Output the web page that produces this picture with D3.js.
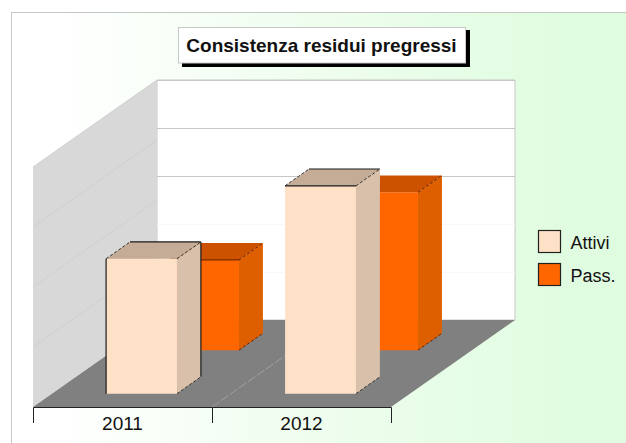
<!DOCTYPE html>
<meta charset="utf-8">
<title>Consistenza residui pregressi</title>
<style>
  html, body { margin: 0; padding: 0; background: #fff; }
  svg { display: block; }
  text { font-family: "Liberation Sans", Arial, sans-serif; fill: #111; }
</style>
<body>
  <div id="container"></div>
  <script src="https://cdn.jsdelivr.net/npm/d3@7"></script>
  <script>
    const categories = ["2011", "2012"];
    const seriesNames = ["Attivi", "Pass."];
    const attivi = [2.81, 4.33];
    const passivi = [1.88, 3.29];
    const backTicks = [1, 2, 3, 4, 5];
    const sideTicks = [1, 2, 3, 4];

    const width = 626;
    const height = 443;

    // front left corner of the floor, and the depth vector going to the back wall
    const x0 = 33, x1 = 391, floorY = 407;
    const depthX = 124, depthY = 87;
    const wallH = 240;

    const svg = d3.select("#container").append("svg")
      .attr("width", width)
      .attr("height", height);

    const grad = svg.append("defs").append("linearGradient")
      .attr("id", "bg");
    grad.append("stop").attr("offset", "0.06").attr("stop-color", "#ffffff");
    grad.append("stop").attr("offset", "0.88").attr("stop-color", "#e0fce0");

    svg.append("rect")
      .attr("x", 11.5).attr("y", 12.5)
      .attr("width", width).attr("height", height)
      .attr("fill", "url(#bg)")
      .attr("stroke", "#c4c8c4");

    const x = d3.scaleBand().domain(categories).range([x0, x1])
      .paddingInner(0.604).paddingOuter(0.302);
    const z = d3.scaleBand().domain(seriesNames).range([0, 1])
      .paddingInner(0.614).paddingOuter(0.307);
    const y = d3.scaleLinear().domain([0, 5]).range([0, wallH]);
    const ySide = d3.scaleLinear().domain([0, 4]).range([0, wallH]);

    // oblique projection: px along x, d = 0..1 into the depth, h = pixels up
    const pt = (px, d, h) => [px + d * depthX, floorY - d * depthY - h];
    const poly = pts => "M" + pts.join("L") + "Z";

    // walls and floor
    svg.append("path")
      .attr("d", poly([pt(x0, 1, 0), pt(x1, 1, 0), pt(x1, 1, wallH), pt(x0, 1, wallH)]))
      .attr("fill", "#fff").attr("stroke", "#c6c6c6");
    svg.append("path")
      .attr("d", poly([pt(x0, 0, 0), pt(x0, 1, 0), pt(x0, 1, wallH), pt(x0, 0, wallH)]))
      .attr("fill", "#d8d8d8");
    svg.append("path")
      .attr("d", poly([pt(x0, 0, 0), pt(x1, 0, 0), pt(x1, 1, 0), pt(x0, 1, 0)]))
      .attr("fill", "#808080");

    svg.selectAll(".back").data(backTicks).join("line")
      .attr("class", "back")
      .attr("x1", pt(x0, 1, 0)[0]).attr("x2", pt(x1, 1, 0)[0])
      .attr("y1", d => Math.round(pt(x0, 1, y(d))[1]) + 0.5)
      .attr("y2", d => Math.round(pt(x0, 1, y(d))[1]) + 0.5)
      .attr("stroke", d => d >= 3 ? "#c6c6c6" : "#f8f8f8");
    svg.selectAll(".side").data(sideTicks).join("line")
      .attr("class", "side")
      .attr("x1", pt(x0, 0, 0)[0]).attr("x2", pt(x0, 1, 0)[0])
      .attr("y1", d => pt(x0, 0, ySide(d))[1])
      .attr("y2", d => pt(x0, 1, ySide(d))[1])
      .attr("stroke", "#d0d0d0");

    // divider on the floor, only half visible in the original
    const midX = x0 + x.step();
    svg.append("line")
      .attr("x1", midX).attr("y1", floorY)
      .attr("x2", pt(midX, 1, 0)[0]).attr("y2", pt(x0, 1, 0)[1])
      .attr("stroke", "#a0a0a0").attr("stroke-dasharray", "9 2");

    // bars, back row first
    const colors = {
      "Attivi": { front: "#ffe1c8", top: "#c4ac96", side: "#d8c0aa", dots: "#333" },
      "Pass.": { front: "#ff6600", top: "#cc5200", side: "#dd5f00", dots: "#6a2000" }
    };
    // which edges came out solid in the original
    const solid = {
      "Attivi-2011": ["left", "topBack", "backRight"],
      "Attivi-2012": ["topFront", "topBack"],
      "Pass.-2011": ["topFront"],
      "Pass.-2012": []
    };

    const bars = [];
    [[seriesNames[1], passivi], [seriesNames[0], attivi]].forEach(([name, values]) => {
      categories.forEach((cat, i) => bars.push({ name, cat, value: values[i] }));
    });

    const g = svg.selectAll(".bar").data(bars).join("g").attr("class", "bar");
    g.each(function(d) {
      const sel = d3.select(this);
      const c = colors[d.name];
      const l = x(d.cat), r = l + x.bandwidth();
      const n = z(d.name), f = n + z.bandwidth();
      const h = y(d.value);

      sel.append("path").attr("d", poly([pt(l, n, 0), pt(r, n, 0), pt(r, n, h), pt(l, n, h)])).attr("fill", c.front);
      sel.append("path").attr("d", poly([pt(r, n, 0), pt(r, f, 0), pt(r, f, h), pt(r, n, h)])).attr("fill", c.side);
      sel.append("path").attr("d", poly([pt(l, n, h), pt(r, n, h), pt(r, f, h), pt(l, f, h)])).attr("fill", c.top);

      const dotted = [[pt(r, n, 0), pt(r, f, 0)], [pt(r, n, h), pt(r, f, h)]];
      if (d.name === seriesNames[0]) dotted.push([pt(l, n, h), pt(l, f, h)]);
      dotted.forEach(e => sel.append("path")
        .attr("d", "M" + e.join("L"))
        .attr("fill", "none").attr("stroke", c.dots)
        .attr("stroke-width", 1).attr("stroke-dasharray", "3 2"));

      const edges = {
        left: [pt(l, n, 0), pt(l, n, h)],
        topFront: [pt(l, n, h), pt(r, n, h)],
        topBack: [pt(l, f, h), pt(r, f, h)],
        backRight: [pt(r, f, 0), pt(r, f, h)]
      };
      solid[d.name + "-" + d.cat].forEach(k => sel.append("path")
        .attr("d", "M" + edges[k].join("L"))
        .attr("fill", "none")
        .attr("stroke", d.name === seriesNames[0] ? "#1a1a1a" : "#7a2c00")
        .attr("stroke-width", 1.2));
    });

    // category axis
    const xAxis = d3.axisBottom(x).tickSize(0).tickPadding(0);
    const axisG = svg.append("g")
      .attr("transform", `translate(0,${floorY})`)
      .call(xAxis);
    axisG.select(".domain").remove();
    axisG.selectAll("text")
      .attr("y", 23).attr("dy", 0)
      .style("font-family", '"Liberation Sans", Arial, sans-serif')
      .style("font-size", "19px");

    svg.append("path")
      .attr("d", `M${x0 + 0.5},${floorY + 16}V${floorY + 0.5}H${x1 + 0.5}V${floorY + 16}M${midX + 0.5},${floorY}V${floorY + 16}`)
      .attr("fill", "none").attr("stroke", "#222");

    // title box
    const title = svg.append("g");
    title.append("rect")
      .attr("x", 182).attr("y", 30).attr("width", 288).attr("height", 37)
      .attr("fill", "#000");
    title.append("rect")
      .attr("x", 178.5).attr("y", 27.5).attr("width", 287).attr("height", 35.5)
      .attr("fill", "#fff").attr("stroke", "#c8c8c8");
    title.append("text")
      .attr("x", 321.5).attr("y", 52)
      .attr("text-anchor", "middle")
      .attr("font-size", "19px")
      .attr("font-weight", "bold")
      .text("Consistenza residui pregressi");

    // legend
    const legend = svg.selectAll(".legend").data(seriesNames).join("g")
      .attr("class", "legend")
      .attr("transform", (d, i) => `translate(538.5,${230.5 + i * 33})`);
    legend.append("rect")
      .attr("width", 22).attr("height", 22)
      .attr("fill", d => colors[d].front)
      .attr("stroke", "#222").attr("stroke-width", 1.2);
    legend.append("text")
      .attr("x", 32).attr("y", 18)
      .attr("font-size", "18px")
      .text(d => d);
  </script>
</body>
